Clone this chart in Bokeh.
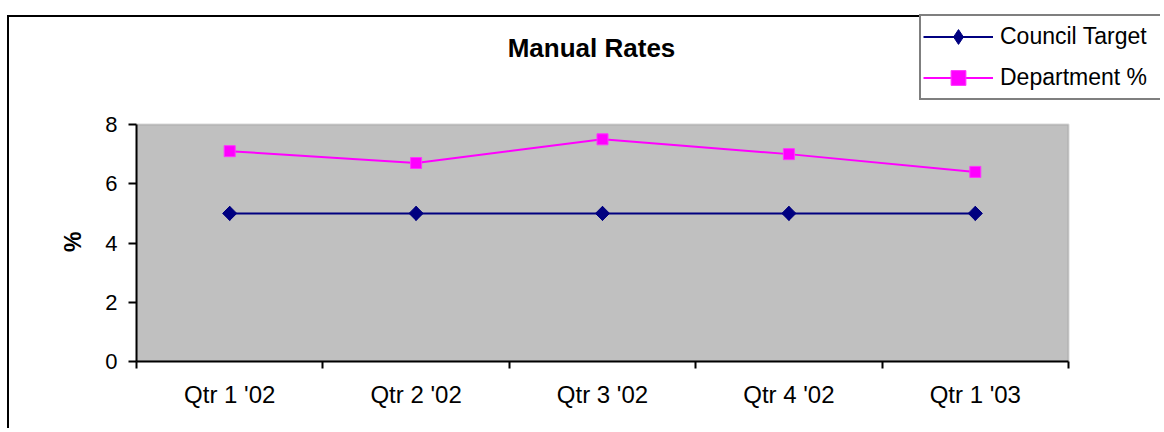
import numpy as np
from bokeh.plotting import figure
from bokeh.models import (ColumnDataSource, FixedTicker, Legend, LegendItem,
                          Range1d, BoxAnnotation, Label)
from bokeh.embed import file_html
from bokeh.resources import INLINE

# ---- data ----
categories = ["Qtr 1 '02", "Qtr 2 '02", "Qtr 3 '02", "Qtr 4 '02", "Qtr 1 '03"]
council_target = [5, 5, 5, 5, 5]
department_pct = [7.1, 6.7, 7.5, 7.0, 6.4]
y_ticks = [0, 2, 4, 6, 8]
y_min, y_max = 0, 8

xpos = list(range(1, len(categories) + 1))
src = ColumnDataSource(dict(x=xpos, council=council_target, dept=department_pct))

FONT = "Liberation Sans"

# ---- layout (page pixels; canvas is at page origin) ----
W, H = 1160, 428
PL, PR, PT, PB = 136, 1068, 124, 361   # plot-area edges

x0, x1 = 0.5, len(categories) + 0.5
ppx = (PR - PL) / (x1 - x0)
ppy = (PB - PT) / (y_max - y_min)
x_end = x1 + (W - PR) / ppx
y_end = y_max + PT / ppy

p = figure(width=W, height=H, output_backend="svg", toolbar_location=None,
           title_location=None,
           x_range=Range1d(x0, x_end), y_range=Range1d(y_min, y_end),
           min_border_left=PL, min_border_right=0, min_border_top=0,
           min_border_bottom=H - PB)
# outer chart-area border (top and left edges visible in the reference)
p.styles = {"background": "linear-gradient(#000,#000) 7px 15px / 100% 2px no-repeat, "
                          "linear-gradient(#000,#000) 7px 15px / 2px 100% no-repeat"}
p.background_fill_color = None
p.border_fill_color = None
p.outline_line_color = None
p.xgrid.visible = False
p.ygrid.visible = False

# grey plot area
p.add_layout(BoxAnnotation(left=x0, right=x1, bottom=y_min, top=y_max,
                           fill_color="#C0C0C0", fill_alpha=1,
                           line_color="#808080", line_width=2, level="underlay"))

# x axis: ticks between categories, labels at centers
xa = p.xaxis[0]
xa.bounds = (x0, x1)
xa.ticker = FixedTicker(ticks=xpos, minor_ticks=[i + 0.5 for i in range(0, len(categories) + 1)])
xa.major_label_overrides = {i + 1: c for i, c in enumerate(categories)}
xa.major_tick_out = 0
xa.major_tick_in = 0
xa.minor_tick_out = 7
xa.minor_tick_in = 0
xa.minor_tick_line_color = "black"
xa.minor_tick_line_width = 2
xa.axis_line_color = "black"
xa.axis_line_width = 2
xa.major_label_text_font = FONT
xa.major_label_text_font_size = "24px"
xa.major_label_text_color = "black"
xa.major_label_standoff = 12

ya = p.yaxis[0]
ya.bounds = (y_min, y_max)
ya.ticker = FixedTicker(ticks=y_ticks)
ya.minor_tick_line_color = None
ya.major_tick_out = 8
ya.major_tick_in = 0
ya.major_tick_line_color = "black"
ya.major_tick_line_width = 2
ya.axis_line_color = "black"
ya.axis_line_width = 2
ya.major_label_text_font = FONT
ya.major_label_text_font_size = "22px"
ya.major_label_text_color = "black"
ya.major_label_standoff = 11
# label is centred on the whole frame; trailing no-break spaces move the "%" down
ya.axis_label = "%" + "\u00a0" * 19
ya.axis_label_text_font = FONT
ya.axis_label_text_font_style = "bold"
ya.axis_label_text_font_size = "23px"
ya.axis_label_text_color = "black"
ya.axis_label_standoff = 16

# series
l1 = p.line("x", "council", source=src, line_color="#000080", line_width=2)
m1d = p.scatter("x", "council", source=src, marker="diamond", size=14,
                fill_color="#000080", line_color="#000080")
m1 = p.scatter("x", "council", source=src, marker="square", angle=np.pi / 4, size=10,
               fill_color="#000080", line_color="#000080")
l2 = p.line("x", "dept", source=src, line_color="#FF00FF", line_width=2)
m2 = p.scatter("x", "dept", source=src, marker="square", size=11,
               fill_color="#FF00FF", line_color="#FF33FF")

# title
p.add_layout(Label(x=591 - PL, y=PB - 47, x_units="screen", y_units="screen",
                   text="Manual Rates", text_font=FONT, text_font_style="bold",
                   text_font_size="26px", text_align="center", text_baseline="middle",
                   text_color="black"))

legend = Legend(items=[LegendItem(label="Council Target", renderers=[l1, m1d]),
                       LegendItem(label="Department %", renderers=[l2, m2])],
                location=(919 - PL, PB - 100))
legend.border_line_color = "black"
legend.border_line_width = 2
legend.background_fill_color = "white"
legend.background_fill_alpha = 1
legend.label_text_font = FONT
legend.label_text_font_size = "23px"
legend.label_text_color = "black"
legend.glyph_width = 70
legend.glyph_height = 37
legend.label_height = 37
legend.label_width = 158
legend.spacing = 4
legend.padding = 2
legend.label_standoff = 7
legend.margin = 0
p.add_layout(legend, "center")

open("out.html", "w").write(file_html(p, INLINE))
